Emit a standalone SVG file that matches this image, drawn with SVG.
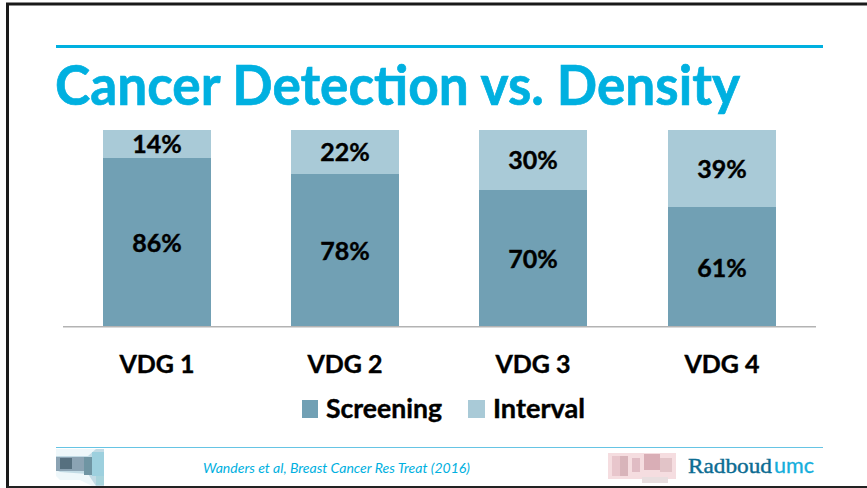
<svg xmlns="http://www.w3.org/2000/svg" width="867" height="488" viewBox="0 0 867 488">
<style>
text{font-family:Lato,"Liberation Sans",sans-serif}
.s{fill:#71a0b4}.i{fill:#a9cad7}
.v{font-size:25px;font-weight:700;fill:#000;text-anchor:middle;stroke:#000;stroke-width:.4}
.l{font-size:26px;font-weight:700;fill:#000;stroke:#000;stroke-width:.4}
.rb{font-family:"Liberation Serif",serif;font-size:21px;stroke-width:.4}
.um{font-size:21px;font-weight:400;stroke-width:.3}
</style>
<rect width="867" height="488" fill="#fff"/>
<path d="M7.500 488V4H867" fill="none" stroke="#1a1a1a" stroke-width="3"/>
<rect x="7" y="486" width="860" height="2" fill="#222"/>
<rect x="56" y="45" width="767" height="3" fill="#00b0e0"/>
<text x="55" y="105" font-size="56" font-weight="700" fill="#00b0e0" stroke="#00b0e0" stroke-width=".7" textLength="685" lengthAdjust="spacingAndGlyphs">Cancer Detection vs. Density</text>
<g id="chart">
<rect x="63" y="326" width="753" height="1.500" fill="#b3b3b3"/>
<g id="vdg1"><rect class="i" x="103" y="130" width="108" height="28"/><rect class="s" x="103" y="158" width="108" height="168"/>
<text class="v" x="157" y="153">14%</text><text class="v" x="157" y="252">86%</text><text class="v" x="157" y="373">VDG 1</text></g>
<g id="vdg2"><rect class="i" x="291" y="130" width="108" height="44"/><rect class="s" x="291" y="174" width="108" height="152"/>
<text class="v" x="345" y="161">22%</text><text class="v" x="345" y="260">78%</text><text class="v" x="345" y="373">VDG 2</text></g>
<g id="vdg3"><rect class="i" x="479" y="130" width="108" height="60"/><rect class="s" x="479" y="190" width="108" height="136"/>
<text class="v" x="533" y="169">30%</text><text class="v" x="533" y="268">70%</text><text class="v" x="533" y="373">VDG 3</text></g>
<g id="vdg4"><rect class="i" x="668" y="130" width="108" height="77"/><rect class="s" x="668" y="207" width="108" height="119"/>
<text class="v" x="722" y="178">39%</text><text class="v" x="722" y="277">61%</text><text class="v" x="722" y="373">VDG 4</text></g>
</g>
<g id="legend">
<rect class="s" x="302" y="400" width="16" height="18"/><text class="l" x="326" y="418" textLength="116" lengthAdjust="spacingAndGlyphs">Screening</text>
<rect class="i" x="468" y="400" width="17" height="18"/><text class="l" x="493" y="418" textLength="92" lengthAdjust="spacingAndGlyphs">Interval</text>
</g>
<g id="footer">
<rect x="56" y="447" width="767" height="1" fill="#66c4e4"/>
<text x="203" y="473" font-size="13.500" font-style="italic" fill="#00b0e0" textLength="267" lengthAdjust="spacingAndGlyphs">Wanders et al, Breast Cancer Res Treat (2016)</text>
<g id="logo-left">
<path d="M56 449H104V486H92L80 480H60L56 476Z" fill="#eef7fa"/>
<path d="M56 456H88L96 449H104V486H96L88 474L60 472L56 470Z" fill="#c2dbe5"/>
<rect x="56" y="457" width="36" height="14" fill="#8ba3b3"/>
<rect x="60" y="458" width="12" height="11" fill="#56707f"/>
<rect x="84" y="457" width="8" height="18" fill="#6f95a3"/>
<rect x="92" y="452" width="12" height="24" fill="#9dd0de"/>
<rect x="96" y="476" width="8" height="9" fill="#a8d4dc"/>
</g>
<g id="logo-right">
<rect x="608" y="453" width="68" height="26" fill="#f5dde0"/>
<rect x="612" y="456" width="8" height="20" fill="#e8c6cc"/>
<rect x="620" y="456" width="8" height="20" fill="#d8b4ba"/>
<rect x="632" y="458" width="8" height="14" fill="#e0bcc4"/>
<rect x="644" y="454" width="16" height="16" fill="#d9aeb6"/>
<rect x="660" y="458" width="12" height="14" fill="#e2c4c8"/>
<rect x="642" y="477" width="26" height="6" fill="#e8dedf"/>
</g>
<text class="rb" x="688" y="473" fill="#0c6c92" stroke="#0c6c92" textLength="84" lengthAdjust="spacingAndGlyphs">Radboud</text>
<text class="um" x="774" y="473" fill="#14aedc" stroke="#14aedc" textLength="40" lengthAdjust="spacingAndGlyphs">umc</text>
</g>
</svg>
